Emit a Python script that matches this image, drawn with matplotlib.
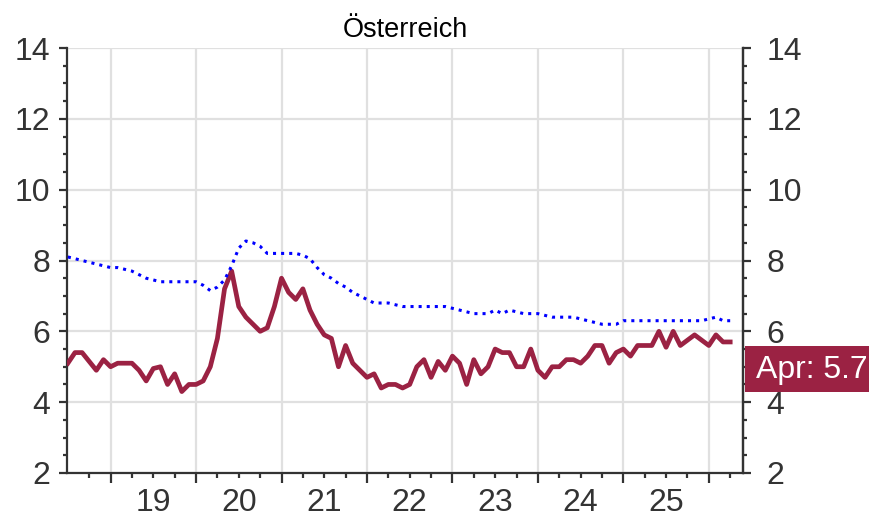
import numpy as np
import pandas as pd
import matplotlib
matplotlib.use('Agg')
import matplotlib.pyplot as plt
from matplotlib.ticker import MultipleLocator, FixedLocator, FixedFormatter, NullFormatter
from matplotlib.patches import Rectangle

# monthly unemployment rates, Jul 2018 - Apr 2026
months = pd.period_range('2018-07', '2026-04', freq='M')

austria = [5.1, 5.4, 5.4, 5.15, 4.9, 5.2, 5.0, 5.1, 5.1, 5.1,
           4.9, 4.6, 4.95, 5.0, 4.5, 4.8, 4.3, 4.5, 4.5, 4.6,
           5.0, 5.8, 7.2, 7.7, 6.7, 6.4, 6.2, 6.0, 6.1, 6.7,
           7.5, 7.1, 6.9, 7.2, 6.6, 6.2, 5.9, 5.8, 5.0, 5.6,
           5.1, 4.9, 4.7, 4.8, 4.4, 4.5, 4.5, 4.4, 4.5, 5.0,
           5.2, 4.7, 5.15, 4.9, 5.3, 5.1, 4.5, 5.2, 4.8, 5.0,
           5.5, 5.4, 5.4, 5.0, 5.0, 5.5, 4.9, 4.7, 5.0, 5.0,
           5.2, 5.2, 5.1, 5.3, 5.6, 5.6, 5.1, 5.4, 5.5, 5.3,
           5.6, 5.6, 5.6, 6.0, 5.55, 6.0, 5.6, 5.75, 5.9, 5.75,
           5.6, 5.9, 5.7, 5.7]

euro = [8.1, 8.05, 8.0, 7.95, 7.9, 7.85, 7.8, 7.8, 7.75, 7.7,
        7.6, 7.5, 7.45, 7.4, 7.4, 7.4, 7.4, 7.4, 7.4, 7.3,
        7.15, 7.25, 7.45, 7.85, 8.35, 8.55, 8.5, 8.4, 8.2, 8.2,
        8.2, 8.2, 8.2, 8.15, 8.05, 7.8, 7.6, 7.5, 7.35, 7.25,
        7.1, 7.0, 6.9, 6.8, 6.8, 6.8, 6.75, 6.7, 6.7, 6.7,
        6.7, 6.7, 6.7, 6.7, 6.65, 6.6, 6.55, 6.5, 6.5, 6.5,
        6.6, 6.5, 6.6, 6.55, 6.5, 6.5, 6.5, 6.45, 6.4, 6.4,
        6.4, 6.4, 6.35, 6.3, 6.25, 6.2, 6.2, 6.2, 6.3, 6.3,
        6.3, 6.3, 6.3, 6.3, 6.3, 6.3, 6.3, 6.3, 6.3, 6.3,
        6.35, 6.4, 6.3, 6.3]

years = [2019, 2020, 2021, 2022, 2023, 2024, 2025, 2026]
year_labels = ['19', '20', '21', '22', '23', '24', '25']

x = np.array([p.year + (p.month - 1) / 12 for p in months])

NARROW = ['Liberation Sans Narrow', 'Liberation Sans', 'DejaVu Sans']
plt.rcParams['font.family'] = NARROW
RED = '#9b2243'
GREY = '#333333'

fig = plt.figure(figsize=(8.69, 5.24), dpi=100)
ax = fig.add_axes([67/869, 1-473/524, 676/869, 425/524])

ax.plot(x, austria, color=RED, lw=3.4, zorder=3)
ax.plot(x, euro, color='#0000ff', lw=2.2, ls=':', zorder=4)

ax.set_xlim(2018.49, 2026.40)
ax.set_ylim(2, 14)

# spines
ax.spines['top'].set_visible(False)
for s in ['left', 'right', 'bottom']:
    ax.spines[s].set_color(GREY)
    ax.spines[s].set_linewidth(1.6)

# x axis: year boundaries (grid), quarter minor ticks, labels mid-year
ax.xaxis.set_major_locator(FixedLocator(years))
ax.xaxis.set_major_formatter(NullFormatter())
quarters = [2018.75] + [y + q for y in years[:-1] for q in (0.25, 0.5, 0.75)] + [2026.25]
ax.xaxis.set_minor_locator(FixedLocator(quarters))
qlabels = [''] + [lab if q == 0.5 else '' for lab in year_labels for q in (0.25, 0.5, 0.75)] + ['']
ax.xaxis.set_minor_formatter(FixedFormatter(qlabels))
ax.tick_params(axis='x', which='major', direction='out', length=7, width=1.6, color=GREY)
ax.tick_params(axis='x', which='minor', direction='out', length=3.5, width=1.6, color=GREY,
               labelsize=23, labelcolor=GREY, pad=7)

# y axis
ax.yaxis.set_major_locator(MultipleLocator(2))
ax.yaxis.set_minor_locator(MultipleLocator(0.5))
ax.tick_params(axis='y', which='major', direction='out', length=6, width=1.6, color=GREY,
               labelsize=23, labelcolor=GREY, pad=6, right=True)
ax.tick_params(axis='y', which='minor', direction='out', length=3, width=1.6, color=GREY, right=True)

ax2 = ax.twinx()
ax2.set_ylim(ax.get_ylim())
ax2.yaxis.set_major_locator(MultipleLocator(2))
ax2.yaxis.set_minor_locator(MultipleLocator(0.5))
ax2.tick_params(axis='y', which='major', direction='out', length=6, width=1.6, color=GREY,
                labelsize=23, labelcolor=GREY, pad=11)
ax2.tick_params(axis='y', which='minor', direction='out', length=3, width=1.6, color=GREY)
for s in ['top', 'left', 'bottom']:
    ax2.spines[s].set_visible(False)
ax2.spines['right'].set_color(GREY)
ax2.spines['right'].set_linewidth(1.6)

ax.grid(True, which='major', color='#e0e0e0', lw=1.6)
ax.set_axisbelow(True)

ax.set_title('Österreich', fontsize=19.5, pad=8, family=['Liberation Sans', 'DejaVu Sans'])

# last value box
last_label = f"{months[-1].strftime('%b')}: {austria[-1]}"
fig.patches.append(Rectangle((745/869, 1-392/524), 124/869, 46/524, transform=fig.transFigure,
                             facecolor=RED, edgecolor='none', zorder=5))
fig.text(812/869, 1-370/524, last_label, color='white', fontsize=23, ha='center', va='center', zorder=6)

fig.savefig('out.png', dpi=100)
